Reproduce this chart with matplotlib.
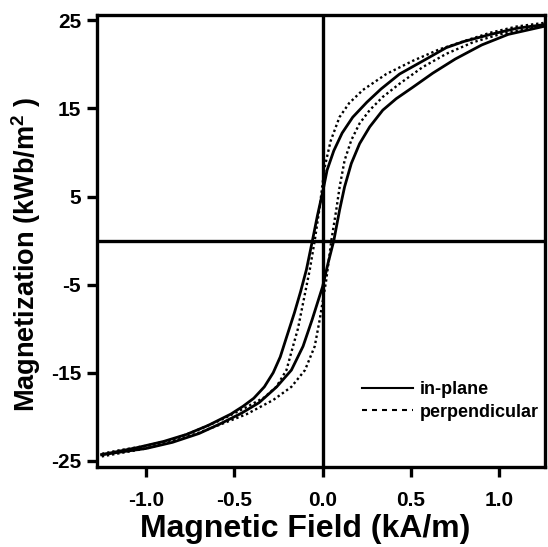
import matplotlib
matplotlib.use("Agg")
import matplotlib.pyplot as plt
from matplotlib.lines import Line2D

plt.rcParams["font.family"] = ["Liberation Sans", "DejaVu Sans"]
plt.rcParams["font.weight"] = "bold"
plt.rcParams["axes.unicode_minus"] = False
plt.rcParams["mathtext.fontset"] = "custom"
plt.rcParams["mathtext.bf"] = "Liberation Sans:bold"
plt.rcParams["mathtext.rm"] = "Liberation Sans:bold"
plt.rcParams["mathtext.default"] = "bf"

# ---- datos (H en kA/m, M en kWb/m^2) ----
# in-plane, rama descendente (H de + a -)
ip_des_h = [1.25, 1.1, 0.95, 0.8, 0.7, 0.586, 0.435, 0.33, 0.25, 0.17, 0.11,
            0.063, 0.025, 0.002, -0.03, -0.058, -0.092, -0.125, -0.16, -0.205,
            -0.24, -0.28, -0.33, -0.39, -0.45, -0.52, -0.65, -0.77, -0.9, -1.05, -1.25]
ip_des_m = [24.5, 24.1, 23.4, 22.6, 21.9, 20.6, 18.9, 17.2, 15.7, 14.0, 12.2,
            10.2, 8.0, 5.7, 2.8, 0.0, -3.3, -5.8, -8.2, -11.0,
            -13.2, -15.0, -16.6, -17.9, -18.8, -19.7, -21.0, -22.0, -22.8, -23.5, -24.3]
# in-plane, rama ascendente (H de - a +)
ip_asc_h = [-1.25, -1.0, -0.85, -0.7, -0.58, -0.46, -0.36, -0.26, -0.177, -0.111,
            -0.06, 0.0, 0.03, 0.063, 0.096, 0.124, 0.162, 0.209, 0.266, 0.34,
            0.416, 0.51, 0.623, 0.75, 0.9, 1.05, 1.25]
ip_asc_m = [-24.3, -23.6, -22.9, -21.9, -20.8, -19.6, -18.4, -16.6, -14.7, -12.0,
            -9.0, -5.2, -2.6, 0.0, 3.5, 6.1, 8.75, 11.0, 12.9, 14.8,
            16.1, 17.4, 19.0, 20.6, 22.2, 23.4, 24.3]
# perpendicular, rama descendente
pp_des_h = [1.25, 1.1, 0.95, 0.81, 0.66, 0.51, 0.36, 0.228, 0.15, 0.095,
            0.045, 0.011, -0.017, -0.045, -0.073, -0.111, -0.14, -0.168, -0.205,
            -0.262, -0.33, -0.44, -0.58, -0.72, -0.85, -1.0, -1.15, -1.25]
pp_des_m = [24.7, 24.3, 23.6, 22.7, 21.7, 20.4, 18.9, 17.1, 15.6, 14.0,
            11.3, 8.3, 3.8, 0.0, -3.3, -7.1, -10.0, -12.0, -14.7,
            -16.6, -17.8, -19.0, -20.4, -21.6, -22.6, -23.3, -23.8, -24.2]
# perpendicular, rama ascendente
pp_asc_h = [-1.25, -1.0, -0.85, -0.7, -0.582, -0.43, -0.28, -0.177, -0.1, -0.045,
            -0.017, 0.02, 0.049, 0.077, 0.096, 0.124, 0.162, 0.209, 0.266, 0.34,
            0.435, 0.567, 0.7, 0.85, 1.0, 1.15, 1.25]
pp_asc_m = [-24.5, -23.6, -22.8, -21.8, -20.9, -19.7, -18.1, -16.6, -14.7, -12.0,
            -9.0, -4.5, 0.0, 3.5, 6.1, 9.1, 11.4, 13.3, 14.8, 16.3,
            17.8, 19.7, 21.2, 22.5, 23.4, 24.0, 24.4]

x_ticks = [-1.0, -0.5, 0.0, 0.5, 1.0]
y_ticks = [-25, -15, -5, 5, 15, 25]

fig = plt.figure(figsize=(5.48, 5.47), dpi=100)
ax = fig.add_axes([97 / 548, 80 / 547, 448 / 548, 452 / 547])

ESTILO_PUNTOS = (0, (1, 1.2))

ax.plot(ip_des_h, ip_des_m, color="black", lw=2)
ax.plot(ip_asc_h, ip_asc_m, color="black", lw=2)
ax.plot(pp_des_h, pp_des_m, color="black", lw=1.7, linestyle=ESTILO_PUNTOS)
ax.plot(pp_asc_h, pp_asc_m, color="black", lw=1.7, linestyle=ESTILO_PUNTOS)

ax.axhline(0, color="black", lw=2.4)
ax.axvline(0, color="black", lw=2.4)

ax.set_xlim(-1.277, 1.258)
ax.set_ylim(-25.7, 25.6)
ax.set_xticks(x_ticks)
ax.set_xticklabels([f"{v:.1f}" for v in x_ticks])
ax.set_yticks(y_ticks)

for s in ax.spines.values():
    s.set_linewidth(2.4)
ax.tick_params(direction="out", length=7.5, width=2.4, labelsize=15)
ax.tick_params(axis="x", pad=10)
ax.tick_params(axis="y", pad=4)

ax.set_xlabel("Magnetic Field (kA/m)", fontsize=23, fontweight="bold")
ax.xaxis.set_label_coords(0.464, -0.104)
ax.set_ylabel(r"Magnetization (kWb/m$^{2}$ )", fontsize=19.5, fontweight="bold")
ax.yaxis.set_label_coords(-0.12, 0.47)

manejadores = [
    Line2D([], [], color="black", lw=1.5),
    Line2D([], [], color="black", lw=1.5, linestyle=(0, (2.4, 2.4))),
]
ax.legend(manejadores, ["in-plane", "perpendicular"], loc="upper left",
          bbox_to_anchor=(0.592, 0.190), frameon=False,
          handlelength=2.8, handletextpad=0.4, labelspacing=0.3,
          borderpad=0, borderaxespad=0, prop={"weight": "bold", "size": 13})

fig.savefig("out.png", dpi=100)
